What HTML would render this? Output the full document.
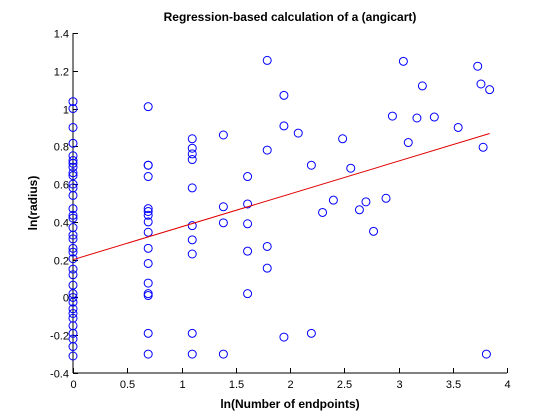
<!DOCTYPE html>
<html><head><meta charset="utf-8"><style>
html,body{margin:0;padding:0;background:#fff;}
svg{display:block;font-family:"Liberation Sans",Arial,sans-serif;}
</style></head><body>
<svg id="chart" width="560" height="420">
<rect x="0" y="0" width="560" height="420" fill="#fff"/>
<text x="290" y="21" text-anchor="middle" font-size="12" font-weight="bold">Regression-based calculation of a (angicart)</text>
<text x="290" y="408" text-anchor="middle" font-size="12" font-weight="bold">ln(Number of endpoints)</text>
<text transform="translate(37,203) rotate(-90)" text-anchor="middle" font-size="12" font-weight="bold">ln(radius)</text>
<g id="axes"></g>
<g id="marks"></g>
</svg>
<script>
const xTicks=[0,0.5,1,1.5,2,2.5,3,3.5,4];
const xTickLabels=["0","0.5","1","1.5","2","2.5","3","3.5","4"];
const yTicks=[-0.4,-0.2,0,0.2,0.4,0.6,0.8,1,1.2,1.4];
const yTickLabels=["-0.4","-0.2","0","0.2","0.4","0.6","0.8","1","1.2","1.4"];
const xs=[0,0,0,0,0,0,0,0,0,0,0,0,0,0,0,0,0,0,0,0,0,0,0,0,0,0,0,0,0,0,0,0,0,0,0,0,
0.693,0.693,0.693,0.693,0.693,0.693,0.693,0.693,0.693,0.693,0.693,0.693,0.693,0.693,0.693,0.693,
1.099,1.099,1.099,1.099,1.099,1.099,1.099,1.099,1.099,1.099,
1.386,1.386,1.386,1.386,
1.609,1.609,1.609,1.609,1.609,
1.79,1.79,1.79,1.79,
1.944,1.944,1.944,2.076,2.197,2.197,2.485,2.56,2.30,2.40,2.64,2.70,2.77,2.885,2.944,3.045,3.09,3.17,3.22,3.33,3.55,3.73,3.76,3.84,3.78,3.81];
const ys=[1.037,1.0,0.90,0.816,0.75,0.725,0.71,0.69,0.66,0.645,0.60,0.58,0.54,0.47,0.435,0.42,0.37,0.33,0.31,0.26,0.24,0.205,0.15,0.12,0.065,0.02,0.0,-0.025,-0.06,-0.085,-0.11,-0.15,-0.19,-0.22,-0.26,-0.31,
1.01,0.70,0.70,0.64,0.47,0.455,0.435,0.40,0.345,0.26,0.18,0.076,0.02,0.01,-0.19,-0.30,
0.84,0.79,0.76,0.73,0.58,0.38,0.305,0.23,-0.19,-0.30,
0.86,0.48,0.395,-0.30,
0.64,0.495,0.39,0.245,0.02,
1.255,0.78,0.27,0.155,
1.07,0.908,-0.21,0.87,0.70,-0.19,0.84,0.684,0.45,0.515,0.464,0.506,0.35,0.525,0.96,1.25,0.82,0.95,1.12,0.955,0.90,1.224,1.13,1.10,0.795,-0.30];
const fitX=[0,3.84];
const fitY=[0.2,0.868];
const L=73,R=507,T=33,B=373;
const sx=v=>L+(v-0)/(4-0)*(R-L);
const sy=v=>B-(v+0.4)/(1.8)*(B-T);
const NS="http://www.w3.org/2000/svg";
const ax=document.getElementById('axes'),mk=document.getElementById('marks');
function mkEl(t,a,p){const e=document.createElementNS(NS,t);for(const k in a)e.setAttribute(k,a[k]);p.appendChild(e);return e;}
const xl=mkEl('line',{x1:L,y1:B,x2:R,y2:B,stroke:'#000'},ax);


const yl=mkEl('line',{x1:L,y1:T,x2:L,y2:B,stroke:'#000'},ax);


xTicks.forEach((v,i)=>{const x=Math.round(sx(v))+0.5;
 mkEl('line',{x1:x,y1:B,x2:x,y2:B-5,stroke:'#000'},ax);
 const t=mkEl('text',{x:x,y:B+15,'text-anchor':'middle','font-size':'11'},ax);t.textContent=xTickLabels[i];
 
 });
yTicks.forEach((v,i)=>{const y=Math.round(sy(v))+0.5;
 mkEl('line',{x1:L,y1:y,x2:L+5,y2:y,stroke:'#000'},ax);
 const t=mkEl('text',{x:L-4,y:y+4,'text-anchor':'end','font-size':'11'},ax);t.textContent=yTickLabels[i];
 
 });
xs.forEach((v,i)=>{const c=mkEl('circle',{cx:sx(v),cy:sy(ys[i]),r:4,fill:'none',stroke:'#0000ff','stroke-width':1},mk);
 
 });
const fl=mkEl('line',{x1:sx(fitX[0]),y1:sy(fitY[0]),x2:sx(fitX[1]),y2:sy(fitY[1]),stroke:'#e00000','stroke-width':1},mk);


</script>
</body></html>
